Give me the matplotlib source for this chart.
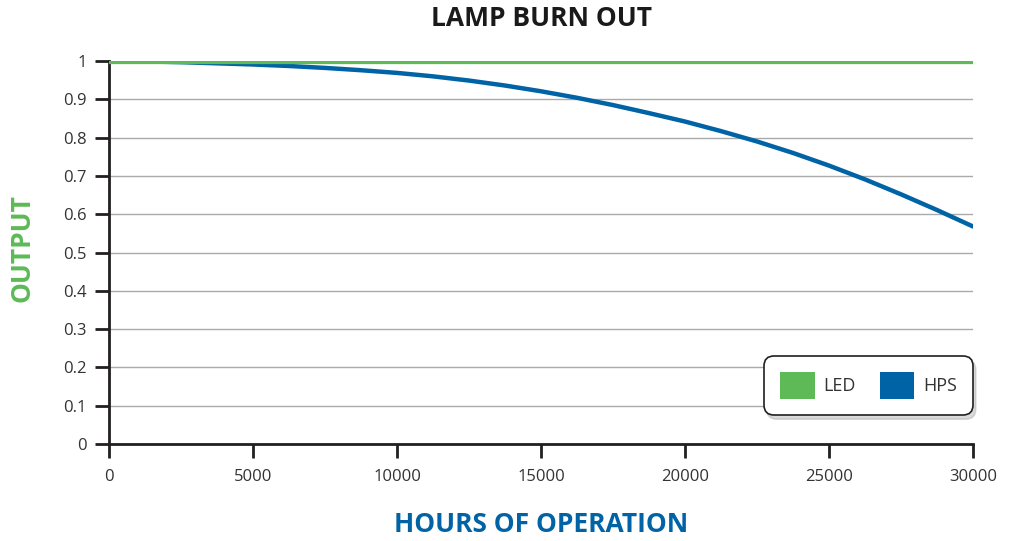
import matplotlib
matplotlib.use("Agg")
import matplotlib.pyplot as plt
from matplotlib.patches import Patch

plt.rcParams['font.family'] = ['Open Sans', 'DejaVu Sans']

# data
hours = [0, 1250, 2500, 3750, 5000, 6250, 7500, 8750, 10000, 11250, 12500, 13750,
         15000, 16250, 17500, 18750, 20000, 21250, 22500, 23750, 25000, 26250,
         27500, 28750, 30000]
led = [1.0] * len(hours)
hps = [1.0, 0.999, 0.997, 0.994, 0.991, 0.987, 0.982, 0.976, 0.969, 0.960, 0.949, 0.936,
       0.921, 0.904, 0.885, 0.864, 0.842, 0.817, 0.790, 0.760, 0.727, 0.691,
       0.652, 0.611, 0.568]
yticks = [0, 0.1, 0.2, 0.3, 0.4, 0.5, 0.6, 0.7, 0.8, 0.9, 1]
ytick_labels = ['0', '0.1', '0.2', '0.3', '0.4', '0.5', '0.6', '0.7', '0.8', '0.9', '1']
xticks = [0, 5000, 10000, 15000, 20000, 25000, 30000]

GREEN = '#5dba56'
BLUE = '#0063a6'

fig = plt.figure(figsize=(10.17, 5.41), dpi=100)
ax = fig.add_axes([0.1072, 0.1793, 0.8495, 0.7079])

ax.plot(hours, hps, color=BLUE, lw=3.2, solid_capstyle='round', zorder=3)
ax.plot(hours, led, color=GREEN, lw=3.8, solid_capstyle='round', zorder=4)

ax.set_xlim(0, 30000)
ax.set_ylim(0, 1)
ax.set_yticks(yticks)
ax.set_yticklabels(ytick_labels)
ax.set_xticks(xticks)
ax.grid(axis='y', color='#aaaaaa', lw=1)
ax.set_axisbelow(True)

for s in ['top', 'right']:
    ax.spines[s].set_visible(False)
for s in ['left', 'bottom']:
    ax.spines[s].set_linewidth(2)
    ax.spines[s].set_color('#231f20')
ax.tick_params(axis='both', length=10, width=2, color='#231f20',
               labelsize=12, labelcolor='#333333')
ax.tick_params(axis='y', pad=6)
ax.tick_params(axis='x', pad=8)

fig.text(0.532, 0.966, 'LAMP BURN OUT', ha='center', va='center',
         fontsize=19, fontweight='bold', color='#1a1a1a')
fig.text(0.022, 0.542, 'OUTPUT', ha='center', va='center', rotation=90,
         fontsize=19, fontweight='bold', color=GREEN)
fig.text(0.532, 0.03, 'HOURS OF OPERATION', ha='center', va='center',
         fontsize=19, fontweight='bold', color=BLUE)

handles = [Patch(facecolor=GREEN, label='LED'), Patch(facecolor=BLUE, label='HPS')]
leg = ax.legend(handles=handles, loc='lower right', bbox_to_anchor=(1.0, 0.0757),
                borderaxespad=0, ncol=2, fontsize=13, frameon=True, fancybox=True,
                shadow={'ox': 2, 'oy': -3, 'color': '0.6', 'alpha': 0.35},
                handlelength=1.9, handleheight=1.9, handletextpad=0.5,
                columnspacing=1.3, borderpad=0.9, labelcolor='#333333')
leg.get_frame().set_edgecolor('#231f20')
leg.get_frame().set_linewidth(1.2)
leg.get_frame().set_boxstyle('round', pad=0, rounding_size=0.55)

fig.savefig('out.png', dpi=100)
